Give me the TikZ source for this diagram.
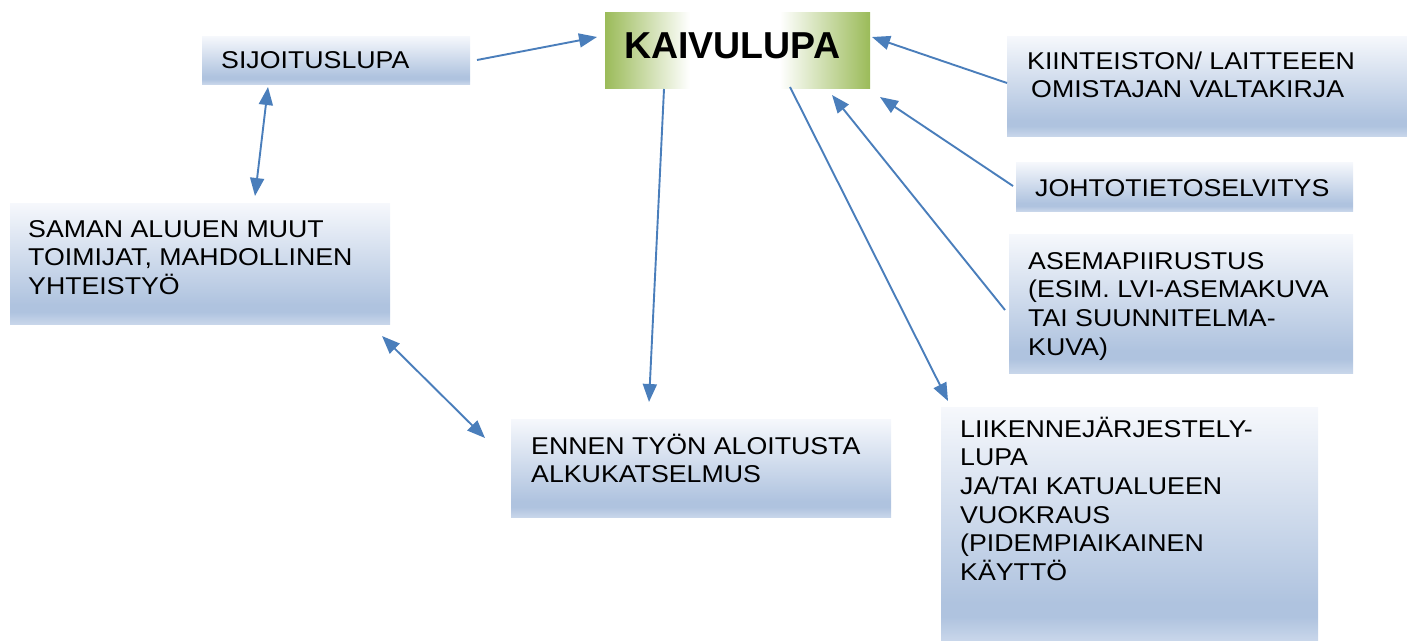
\documentclass[tikz,border=0pt]{standalone}
\usepackage{fontspec}
\setmainfont{Liberation Sans}
\newfontfamily\widesans{Liberation Sans}[FakeStretch=1.1]
\usetikzlibrary{arrows.meta}
\definecolor{bbot}{HTML}{C8D6EA}
\definecolor{bdark}{HTML}{AFC3DF}
\definecolor{btop}{HTML}{F6F8FC}
\definecolor{kg}{HTML}{9BBB59}
\definecolor{arrc}{HTML}{4A7EBB}
\pgfdeclareverticalshading{boxshade}{100bp}{color(0bp)=(bbot); color(25bp)=(bbot); color(30bp)=(bdark); color(33bp)=(bdark); color(75bp)=(btop); color(100bp)=(btop)}
\pgfdeclarehorizontalshading{kaishade}{100bp}{color(0bp)=(kg); color(25bp)=(kg); color(41bp)=(white); color(58bp)=(white); color(75bp)=(kg); color(100bp)=(kg)}
\tikzset{
  bluebox/.style={shading=boxshade, draw=none, rectangle},
  txt/.style={anchor=base west, inner sep=0pt, align=left, font=\widesans\fontsize{24.3}{28.7}\selectfont},
  arr/.style={draw=arrc, line width=1.9pt, -{Triangle[length=18pt,width=14pt]}},
  darr/.style={draw=arrc, line width=1.9pt, {Triangle[length=18pt,width=14pt]}-{Triangle[length=18pt,width=14pt]}}
}
\begin{document}
\begin{tikzpicture}[x=1pt,y=-1pt]
\useasboundingbox (0,0) rectangle (1407,640);
% boxes
\path[shading=kaishade] (605,12) rectangle (870,88);
\node[inner sep=0pt, minimum width=265pt, minimum height=76pt] (kai) at (737.5,50) {};
\path[bluebox] (202,36) rectangle (470,84);
\node[inner sep=0pt, minimum width=268pt, minimum height=48pt] (sij) at (336,60) {};
\path[bluebox] (10,203) rectangle (390,324);
\node[inner sep=0pt, minimum width=380pt, minimum height=121pt] (sam) at (200,263.5) {};
\path[bluebox] (511,419) rectangle (891,517);
\node[inner sep=0pt, minimum width=380pt, minimum height=98pt] (enn) at (701,468) {};
\path[bluebox] (1007,36) rectangle (1407,136);
\node[inner sep=0pt, minimum width=400pt, minimum height=100pt] (kii) at (1207,86) {};
\path[bluebox] (1016,162) rectangle (1353,211);
\node[inner sep=0pt, minimum width=337pt, minimum height=49pt] (joh) at (1184.5,186.5) {};
\path[bluebox] (1009,234) rectangle (1353,373);
\node[inner sep=0pt, minimum width=344pt, minimum height=139pt] (ase) at (1181,303.5) {};
\path[bluebox] (941,407) rectangle (1318,640);
\node[inner sep=0pt, minimum width=377pt, minimum height=233pt] (lii) at (1129.5,523.5) {};
% texts (anchored at the baseline of the last line)
\node[anchor=base west, inner sep=0pt, font=\fontsize{37.5}{40}\selectfont\bfseries] (kaiT) at (624,58) {KAIVULUPA};
\node[txt] (sijT) at (221,68) {SIJOITUSLUPA};
\node[txt] (samT) at (28,294.4) {SAMAN ALUUEN MUUT\\TOIMIJAT, MAHDOLLINEN\\YHTEISTYÖ};
\node[txt] (ennT) at (531,482.7) {ENNEN TYÖN ALOITUSTA\\ALKUKATSELMUS};
\node[txt] (kiiT) at (1027,97.7) {KIINTEISTON/ LAITTEEEN\\\hspace*{4pt}OMISTAJAN VALTAKIRJA};
\node[txt] (johT) at (1035,196) {JOHTOTIETOSELVITYS};
\node[txt] (aseT) at (1028,355.1) {ASEMAPIIRUSTUS\\(ESIM. LVI-ASEMAKUVA\\TAI SUUNNITELMA-\\KUVA)};
\node[txt] (liiT) at (960,580.5) {LIIKENNEJÄRJESTELY-\\LUPA\\JA/TAI KATUALUEEN\\VUOKRAUS\\(PIDEMPIAIKAINEN\\KÄYTTÖ};
% connector end points
\coordinate (s1) at (477,60);   \coordinate (k1) at (597,37);
\coordinate (s2) at (268,87);   \coordinate (m2) at (255,196);
\coordinate (m3) at (382,336);  \coordinate (e3) at (485,438);
\coordinate (k4) at (664,89);   \coordinate (e4) at (649,402);
\coordinate (k5) at (790,87);   \coordinate (l5) at (948,401);
\coordinate (a6) at (1005,310); \coordinate (k6) at (832,95);
\coordinate (j7) at (1013,186); \coordinate (k7) at (880,97);
\coordinate (i8) at (1007,83);  \coordinate (k8) at (872,37);
% connectors
\draw[arr] (s1) -- (k1);
\draw[darr] (s2) -- (m2);
\draw[darr] (m3) -- (e3);
\draw[arr] (k4) -- (e4);
\draw[arr] (k5) -- (l5);
\draw[arr] (a6) -- (k6);
\draw[arr] (j7) -- (k7);
\draw[arr] (i8) -- (k8);
\end{tikzpicture}
\end{document}
